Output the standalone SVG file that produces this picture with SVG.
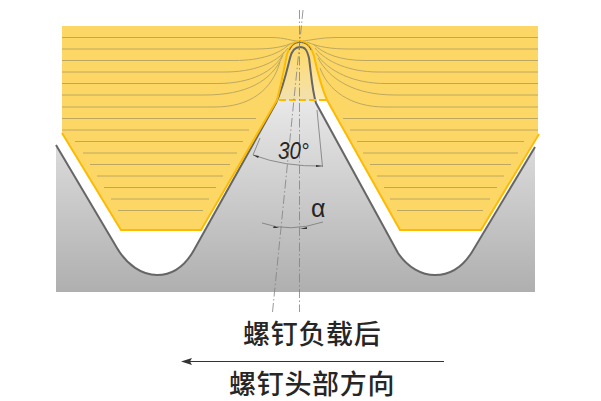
<svg xmlns="http://www.w3.org/2000/svg" width="601" height="401" viewBox="0 0 601 401">
<style>
.fl{fill:none;stroke:#bda85f;stroke-width:1}
.cl{fill:none;stroke:#808080;stroke-width:.8;stroke-dasharray:9 2.5 1.5 2.5}
.th{fill:none;stroke:#777;stroke-width:.8}
.ah{fill:#333}
.cjk{font-family:"Noto Sans CJK SC","Noto Sans",sans-serif;font-size:27px;font-weight:500;fill:#262626;letter-spacing:.7px}
</style>
<defs>
<linearGradient id="g" gradientUnits="userSpaceOnUse" x1="0" y1="60" x2="0" y2="292"><stop offset="0" stop-color="#f4f4f4"/><stop offset="1" stop-color="#afafaf"/></linearGradient>
<linearGradient id="t" gradientUnits="userSpaceOnUse" x1="0" y1="45" x2="0" y2="100"><stop offset="0" stop-color="#fdd766"/><stop offset="1" stop-color="#fdd766" stop-opacity=".45"/></linearGradient>
</defs>
<g id="bolt">
<path fill="url(#g)" d="M56,145L117,248C127,265 142,275 157,275C172,275 185,266 194,250L276,103C283,88 287,70 290,58C292,50 295,47 300,47C305,47 307,50 309,58C311,72 312,90 316,103L398,253C408,268 422,275 435,275C450,275 462,268 472,252L535,147V292H56Z"/>
</g>
<g id="screw">
<path fill="#fdd766" d="M62,26H538V134L481,230H400L327,100C321,86 317,70 314,56C311,46 306,41 300,41C294,41 290,46 287,54C284,70 281,85 277,100L201,230H121L62,133Z"/>
<path fill="url(#t)" d="M277,100C281,85 284,70 287,54C290,46 294,41 300,41C306,41 311,46 314,56C317,70 321,86 327,100Z"/>
</g>
<g id="flow-lines">
<path class="fl" d="M62,118.500H256M62,130H249M75,141.500H243M83,153H237M90,164.500H230M97,176H223M104,187.500H216M111,199H209M118,210.500H203"/>
<path class="fl" d="M343,118.500H538M350,130H538M357,141.500H524M363,153H518M370,164.500H511M377,176H504M384,187.500H497M390,199H490M397,210.500H483"/>
<path class="fl" d="M62,37.500H272C284,37.500 292,41 300,41.500M62,49H255C272,49 284,47 295,42M62,60.500H235C260,60.500 280,54 290,43.500M62,72H225C252,72 276,64 288,48M62,83.500H218C250,83.500 275,72 284,52M62,95H205C245,95 272,82 283,55M62,107H215C250,107 272,90 280,62"/>
<path class="fl" d="M538,37.500H335C322,37.500 312,40 300,41.500M538,49H348C332,49 318,47 307,42M538,60.500H365C340,60.500 324,54 313,44M538,72H378C350,72 326,62 315,48M538,83.500H385C355,83.500 328,72 316,53M538,95H395C355,95 330,80 318,58M538,107H385C350,107 328,90 320,68"/>
</g>
<g id="outlines">
<path fill="none" stroke="#666" stroke-width="2" d="M56,145L117,248C127,265 142,275 157,275C172,275 185,266 194,250L276,103C283,88 287,70 290,58C292,50 295,47 300,47C305,47 307,50 309,58C311,72 312,90 316,103L398,253C408,268 422,275 435,275C450,275 462,268 472,252L535,147"/>
<path fill="none" stroke="#fdbb00" stroke-width="2" d="M62,133L121,230H201L277,100C281,85 284,70 287,54C290,46 294,41 300,41C306,41 311,46 314,56C317,70 321,86 327,100L400,230H481L539,134"/>
<path fill="none" stroke="#fdbb00" stroke-width="2" stroke-dasharray="7 3" d="M279,100H326"/>
<path fill="none" stroke="#555" stroke-width=".9" d="M289.500,50C292,45 295,42.500 300,42.500C305,42.500 309,45 311,50"/>
</g>
<g id="connectors">
<path class="cl" d="M299.500,10V312"/>
<path class="cl" d="M303,10L272.500,312"/>
<path class="th" d="M260,138L253,155M317,110L322.500,167"/>
<path class="th" d="M253,155Q285,167 323,166"/>
<path class="th" d="M262,223Q290,233 323,222"/>
<path d="M253,155L259,156L258,158Z" class="ah"/>
<path d="M322,166L316,167L316,165Z" class="ah"/>
<path d="M279,228L273,228L274,226Z" class="ah"/>
<path d="M300,229L307,227L307,229Z" class="ah"/>
<path fill="none" stroke="#333" stroke-width="1" d="M186,361.500H444"/>
<path class="ah" d="M181,361.500L192,358L190,361.500L192,365Z"/>
</g>
<g id="labels">
<text x="278" y="159" font-family="Liberation Sans,Arial,sans-serif" font-style="italic" font-size="23" fill="#262626" textLength="31" lengthAdjust="spacingAndGlyphs">30°</text>
<text x="311" y="217" font-family="Liberation Sans,Arial,sans-serif" font-size="25" fill="#262626">α</text>
<text class="cjk" x="243" y="344">螺钉负载后</text>
<text class="cjk" x="229" y="394">螺钉头部方向</text>
</g>
</svg>
